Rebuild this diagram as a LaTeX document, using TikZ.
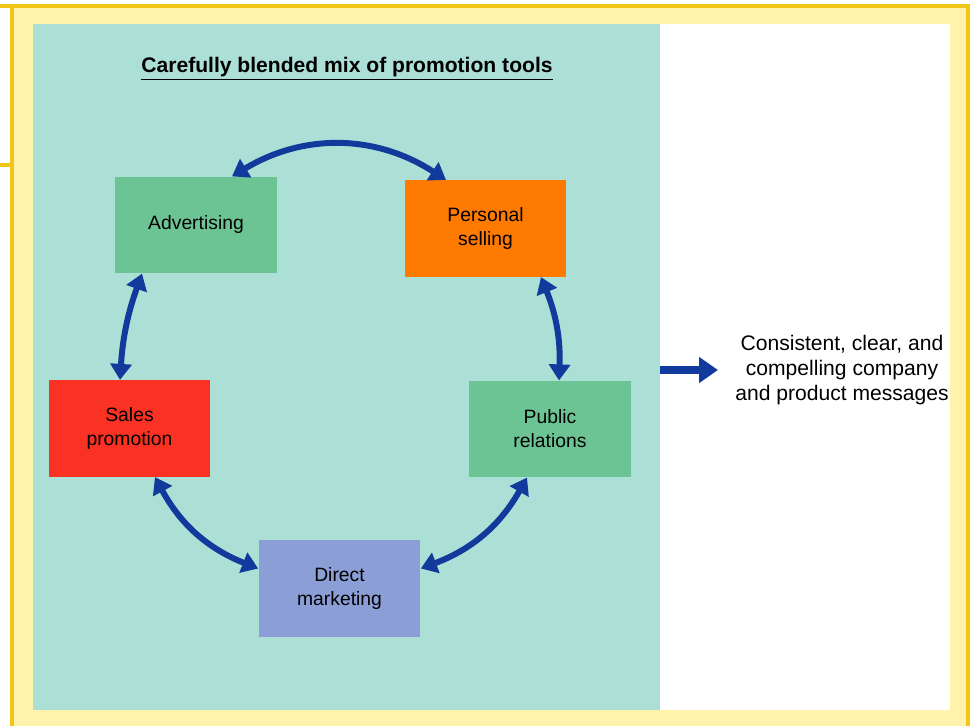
\documentclass[tikz,border=0pt]{standalone}
\usepackage{fontspec}
\setmainfont{Liberation Sans}
\usetikzlibrary{arrows.meta,positioning}

\definecolor{framegold}{RGB}{242,198,24}
\definecolor{framecream}{RGB}{255,242,170}
\definecolor{panelteal}{RGB}{172,224,214}
\definecolor{toolgreen}{RGB}{108,196,148}
\definecolor{toolorange}{RGB}{255,122,0}
\definecolor{toolred}{RGB}{250,50,35}
\definecolor{toolblue}{RGB}{140,158,214}
\definecolor{arrowblue}{RGB}{18,58,156}

\begin{document}
\begin{tikzpicture}[
    x=0.02cm, y=-0.02cm,
    every node/.style={font=\fontsize{11}{13.6}\selectfont},
    tool/.style={
        rectangle,
        minimum width=3.24cm,
        minimum height=1.93cm,
        align=center,
        inner sep=0pt
    },
    panel/.style={
        rectangle,
        inner sep=0pt,
        anchor=north west,
        minimum height=13.72cm
    },
    biarrow/.style={
        {Triangle[width=0.42cm,length=0.32cm]}-{Triangle[width=0.42cm,length=0.32cm]},
        line width=3.4pt,
        draw=arrowblue
    },
    arrow/.style={
        -{Triangle[width=0.5cm,length=0.38cm]},
        line width=4pt,
        draw=arrowblue
    }
]
\useasboundingbox (0,0) rectangle (970,726);

% Frame
\fill[white] (0,0) rectangle (970,726);
\fill[framecream] (12,6) rectangle (968,726);
\draw[framegold, line width=1.8pt] (0,6) -- (968,6) -- (968,726);
\draw[framegold, line width=1.8pt] (12,6) -- (12,726);
\draw[framegold, line width=1.8pt] (0,165) -- (12,165);

% Panels
\node[panel, fill=panelteal, minimum width=12.54cm] (mix) at (33,24) {};
\node[panel, fill=white, minimum width=5.8cm] (result) at (660,24) {};

\node[font=\bfseries\fontsize{12}{14}\selectfont] (title) at (347,69)
{\underline{Carefully blended mix of promotion tools}};

% Nodes
\node[tool, fill=toolgreen] (adv) at (196,225) {Advertising};
\node[tool, fill=toolorange] (ps) at (485.5,228.5) {Personal\\selling};
\node[tool, fill=toolgreen] (pr) at (550,429) {Public\\relations};
\node[tool, fill=toolblue] (dm) at (339.5,588.5) {Direct\\marketing};
\node[tool, fill=toolred] (sp) at (129.5,428.5) {Sales\\promotion};

\node[align=center, font=\fontsize{12}{14.2}\selectfont] (msg) at (842,370)
{Consistent, clear, and\\compelling company\\and product messages};

% Arrows
\draw[biarrow] ([xshift=0.72cm]adv.north) to[bend left=32] ([xshift=-0.79cm]ps.north);
\draw[biarrow] ([xshift=1.11cm]ps.south) to[bend left=12] ([xshift=0.18cm]pr.north);
\draw[biarrow] ([xshift=-0.46cm]pr.south) to[bend left=20] ([yshift=0.4cm]dm.east);
\draw[biarrow] ([yshift=0.4cm]dm.west) to[bend left=20] ([xshift=0.51cm]sp.south);
\draw[biarrow] ([xshift=-0.19cm]sp.north) to[bend left=8] ([xshift=-1.08cm]adv.south);

\draw[arrow] (result.west |- msg) -- ++(1.16cm,0);

\end{tikzpicture}
\end{document}
